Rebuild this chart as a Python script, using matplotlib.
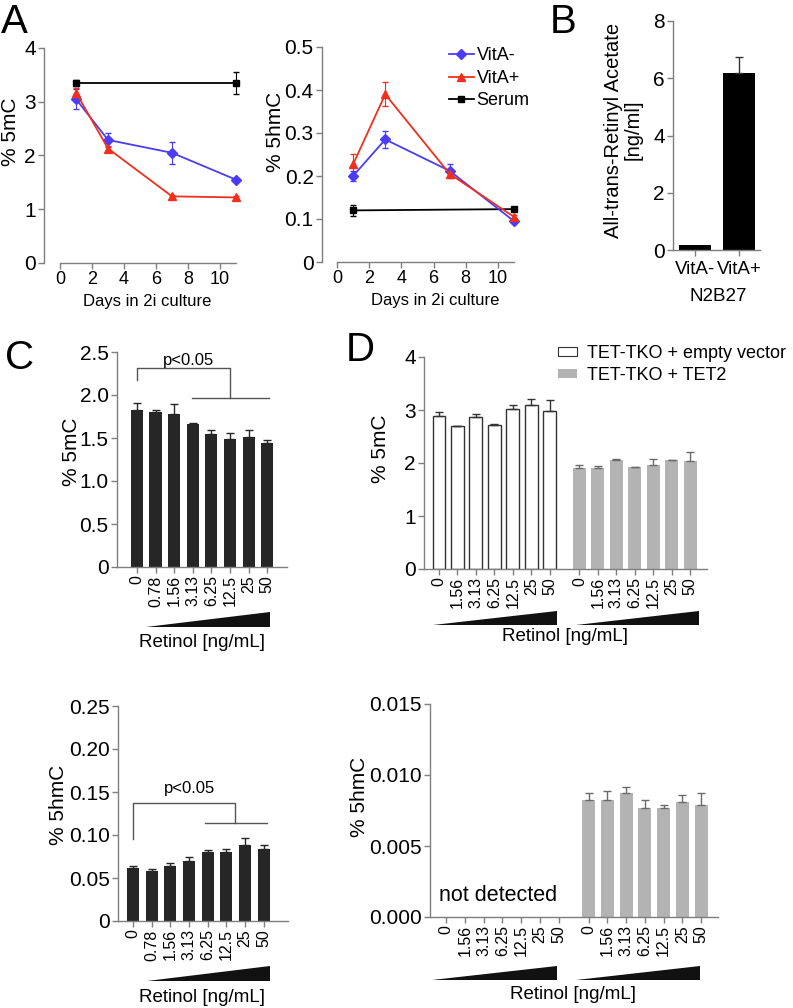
"""
Retinol / vitamin A effect on 5mC and 5hmC levels (panels A-D)
"""
import matplotlib
matplotlib.use('Agg')
import matplotlib.pyplot as plt
import matplotlib.transforms as mtransforms
from matplotlib.patches import Polygon, Patch
from matplotlib.lines import Line2D
import numpy as np

plt.rcParams['font.family'] = ['Liberation Sans', 'DejaVu Sans']

# ---- data -------------------------------------------------------------
days = [1, 3, 7, 11]
serum_days = [1, 11]

# panel A, 5mC
a_mc_vita_minus = [3.05, 2.29, 2.05, 1.55]
a_mc_vita_minus_err = [0.19, 0.13, 0.20, 0.03]
a_mc_vita_plus = [3.17, 2.13, 1.24, 1.22]
a_mc_vita_plus_err = [0.08, 0.04, 0.03, 0.03]
a_mc_serum = [3.35, 3.35]
a_mc_serum_err = [0.06, 0.21]

# panel A, 5hmC
a_hmc_vita_minus = [0.200, 0.285, 0.212, 0.095]
a_hmc_vita_minus_err = [0.012, 0.020, 0.016, 0.004]
a_hmc_vita_plus = [0.227, 0.390, 0.205, 0.105]
a_hmc_vita_plus_err = [0.024, 0.028, 0.004, 0.004]
a_hmc_serum = [0.120, 0.123]
a_hmc_serum_err = [0.012, 0.004]

# panel B
b_labels = ['VitA-', 'VitA+']
b_values = [0.18, 6.2]
b_err = [0.0, 0.55]

# panel C
c_conc = ['0', '0.78', '1.56', '3.13', '6.25', '12.5', '25', '50']
c_mc = [1.82, 1.80, 1.78, 1.66, 1.55, 1.49, 1.51, 1.44]
c_mc_err = [0.09, 0.03, 0.12, 0.01, 0.04, 0.07, 0.08, 0.04]
c_hmc = [0.062, 0.058, 0.064, 0.070, 0.080, 0.080, 0.088, 0.084]
c_hmc_err = [0.002, 0.002, 0.004, 0.004, 0.002, 0.004, 0.008, 0.004]

# panel D
d_conc = ['0', '1.56', '3.13', '6.25', '12.5', '25', '50']
d_mc_empty = [2.88, 2.69, 2.86, 2.71, 3.01, 3.09, 2.98]
d_mc_empty_err = [0.09, 0.0, 0.07, 0.03, 0.09, 0.12, 0.20]
d_mc_tet2 = [1.91, 1.90, 2.06, 1.92, 1.96, 2.05, 2.03]
d_mc_tet2_err = [0.05, 0.04, 0.01, 0.01, 0.12, 0.01, 0.17]
d_hmc_tet2 = [0.00824, 0.00822, 0.00873, 0.00768, 0.00770, 0.00808, 0.00790]
d_hmc_tet2_err = [0.00049, 0.00068, 0.00042, 0.00056, 0.00020, 0.00052, 0.00080]

# ---- style ------------------------------------------------------------
W, H = 793, 1008
SPINE = '#7f7f7f'
BLUE = '#4b3cf5'
RED = '#f0301c'
DARK = '#262626'
GREY = '#b3b3b3'
YT = 15      # y tick labels
XT = 11.5    # rotated concentration labels
LAB = 15     # y axis labels

fig = plt.figure(figsize=(W / 100, H / 100), dpi=100)


def px_axes(left, top, right, bottom):
    return fig.add_axes([left / W, 1 - bottom / H, (right - left) / W, (bottom - top) / H])


def style(ax, ysize=YT, xsize=13):
    for s in ['top', 'right']:
        ax.spines[s].set_visible(False)
    for s in ['left', 'bottom']:
        ax.spines[s].set_color(SPINE)
        ax.spines[s].set_linewidth(1.0)
    ax.tick_params(direction='out', length=4, width=1, color=SPINE)
    ax.tick_params(axis='y', labelsize=ysize, pad=2)
    ax.tick_params(axis='x', labelsize=xsize, pad=2)


def ylabel(ax, text, x, y, size=LAB):
    ax.text(x, y, text, transform=ax.transAxes, rotation=90, ha='center',
            va='center', fontsize=size, multialignment='center', linespacing=1.0)


def wedge(ax, x0, x1, yb, yt):
    tr = mtransforms.blended_transform_factory(ax.transData, ax.transAxes)
    ax.add_patch(Polygon([(x0, yb), (x1, yb), (x1, yt)], closed=True,
                         facecolor='#111111', edgecolor='none',
                         transform=tr, clip_on=False))


def upper_err(ax, x, y, err, color):
    ax.errorbar(x, y, yerr=[np.zeros(len(err)), err], fmt='none',
                ecolor=color, elinewidth=1, capsize=3, capthick=1, clip_on=False)


# ---- panel A: 5mC -----------------------------------------------------
ax = px_axes(44, 48, 240, 263)
style(ax)
ax.errorbar(serum_days, a_mc_serum, yerr=a_mc_serum_err, color='black', marker='s',
            ms=5, lw=1.3, capsize=2.5, elinewidth=0.8, clip_on=False)
ax.errorbar(days, a_mc_vita_minus, yerr=a_mc_vita_minus_err, color=BLUE, marker='D',
            ms=5, lw=1.3, capsize=2.5, elinewidth=0.8, clip_on=False)
ax.errorbar(days, a_mc_vita_plus, yerr=a_mc_vita_plus_err, color=RED, marker='^',
            ms=6, lw=1.3, capsize=2.5, elinewidth=0.8, clip_on=False)
ax.set_xlim(-1, 11.25)
ax.set_ylim(0, 4)
ax.spines['bottom'].set_bounds(0, 11)
ax.set_xticks([0, 2, 4, 6, 8, 10])
ax.set_yticks([0, 1, 2, 3, 4])
ax.text(0.526, -0.18, 'Days in 2i culture', transform=ax.transAxes,
        ha='center', va='center', fontsize=12)
ylabel(ax, '% 5mC', -0.17, 0.61)

# ---- panel A: 5hmC ----------------------------------------------------
ax = px_axes(322, 47, 518, 262)
style(ax)
ax.errorbar(serum_days, a_hmc_serum, yerr=a_hmc_serum_err, color='black', marker='s',
            ms=5, lw=1.3, capsize=2.5, elinewidth=0.8, clip_on=False)
ax.errorbar(days, a_hmc_vita_minus, yerr=a_hmc_vita_minus_err, color=BLUE, marker='D',
            ms=5, lw=1.3, capsize=2.5, elinewidth=0.8, clip_on=False)
ax.errorbar(days, a_hmc_vita_plus, yerr=a_hmc_vita_plus_err, color=RED, marker='^',
            ms=6, lw=1.3, capsize=2.5, elinewidth=0.8, clip_on=False)
ax.set_xlim(-0.93, 11.25)
ax.set_ylim(0, 0.5)
ax.spines['bottom'].set_bounds(0, 11)
ax.set_xticks([0, 2, 4, 6, 8, 10])
ax.set_yticks([0, 0.1, 0.2, 0.3, 0.4, 0.5])
ax.set_yticklabels(['0', '0.1', '0.2', '0.3', '0.4', '0.5'])
ax.text(0.577, -0.177, 'Days in 2i culture', transform=ax.transAxes,
        ha='center', va='center', fontsize=12)
ylabel(ax, '% 5hmC', -0.235, 0.605)
handles = [Line2D([], [], color=BLUE, marker='D', ms=5, lw=1.3),
           Line2D([], [], color=RED, marker='^', ms=6, lw=1.3),
           Line2D([], [], color='black', marker='s', ms=5, lw=1.3)]
ax.legend(handles, ['VitA-', 'VitA+', 'Serum'], loc='upper left',
          bbox_to_anchor=(0.6, 1.04), frameon=False, fontsize=13,
          handlelength=1.4, handletextpad=0.15, labelspacing=0.3, borderpad=0)

# ---- panel B ----------------------------------------------------------
ax = px_axes(673, 21, 760, 250)
style(ax, xsize=13.5)
ax.tick_params(axis='x', pad=4)
bx = np.arange(len(b_values))
ax.bar(bx, b_values, width=0.73, color='black')
upper_err(ax, bx[1:], b_values[1:], b_err[1:], '#333333')
ax.set_xlim(-0.5, 1.48)
ax.set_ylim(0, 8)
ax.set_yticks([0, 2, 4, 6, 8])
ax.set_xticks(bx)
ax.set_xticklabels(b_labels)
ax.text(0.52, -0.205, 'N2B27', transform=ax.transAxes, ha='center', va='center', fontsize=13.5)
ylabel(ax, 'All-trans-Retinyl Acetate\n[ng/ml]', -0.57, 0.524, size=14.5)

# ---- panel C: 5mC -----------------------------------------------------
cx = np.arange(len(c_conc))
ax = px_axes(117, 352, 287, 567)
style(ax, xsize=XT)
ax.bar(cx, c_mc, width=0.65, color=DARK)
upper_err(ax, cx, c_mc, c_mc_err, DARK)
ax.set_xlim(-1.07, 8.06)
ax.set_ylim(0, 2.5)
ax.set_yticks([0, 0.5, 1.0, 1.5, 2.0, 2.5])
ax.set_yticklabels(['0', '0.5', '1.0', '1.5', '2.0', '2.5'])
ax.set_xticks(cx)
ax.set_xticklabels(c_conc, rotation=90)
ax.plot([0, 0, 5, 5], [2.18, 2.31, 2.31, 1.96], color='#555555', lw=1, clip_on=False)
ax.plot([2.95, 7.1], [1.96, 1.96], color='#555555', lw=1, clip_on=False)
ax.text(2.75, 2.31, 'p<0.05', ha='center', va='bottom', fontsize=12)
wedge(ax, 0.5, 7.15, -0.279, -0.209)
ax.text(0.5, -0.353, 'Retinol [ng/mL]', transform=ax.transAxes, ha='center',
        va='center', fontsize=13.5)
ylabel(ax, '% 5mC', -0.265, 0.535)

# ---- panel C: 5hmC ----------------------------------------------------
ax = px_axes(118, 706, 288, 921)
style(ax, xsize=XT)
ax.bar(cx, c_hmc, width=0.65, color=DARK)
upper_err(ax, cx, c_hmc, c_hmc_err, DARK)
ax.set_xlim(-0.8, 8.3)
ax.set_ylim(0, 0.25)
ax.set_yticks([0, 0.05, 0.10, 0.15, 0.20, 0.25])
ax.set_yticklabels(['0', '0.05', '0.10', '0.15', '0.20', '0.25'])
ax.set_xticks(cx)
ax.set_xticklabels(c_conc, rotation=90)
ax.plot([0, 0, 5.45, 5.45], [0.095, 0.137, 0.137, 0.114], color='#555555', lw=1, clip_on=False)
ax.plot([3.85, 7.2], [0.114, 0.114], color='#555555', lw=1, clip_on=False)
ax.text(3.05, 0.145, 'p<0.05', ha='center', va='bottom', fontsize=12)
wedge(ax, 0.75, 7.33, -0.279, -0.209)
ax.text(0.494, -0.358, 'Retinol [ng/mL]', transform=ax.transAxes, ha='center',
        va='center', fontsize=13.5)
ylabel(ax, '% 5hmC', -0.35, 0.54)

# ---- panel D: 5mC -----------------------------------------------------
dx1 = np.arange(len(d_conc))
dx2 = dx1 + 7.6
ax = px_axes(424, 357, 707, 569)
style(ax, xsize=XT)
ax.bar(dx1, d_mc_empty, width=0.7, color='white', edgecolor='#333333', linewidth=1)
upper_err(ax, dx1, d_mc_empty, d_mc_empty_err, '#333333')
ax.bar(dx2, d_mc_tet2, width=0.7, color=GREY)
upper_err(ax, dx2, d_mc_tet2, d_mc_tet2_err, '#6a6a6a')
ax.set_xlim(-0.81, 14.5)
ax.set_ylim(0, 4)
ax.set_yticks([0, 1, 2, 3, 4])
ax.set_xticks(np.concatenate([dx1, dx2]))
ax.set_xticklabels(d_conc + d_conc, rotation=90)
wedge(ax, -0.32, 6.38, -0.264, -0.198)
wedge(ax, 7.4, 14.05, -0.264, -0.198)
ax.text(0.498, -0.32, 'Retinol [ng/mL]', transform=ax.transAxes, ha='center',
        va='center', fontsize=13.5)
ylabel(ax, '% 5mC', -0.155, 0.566)
leg_handles = [Patch(facecolor='white', edgecolor='#333333', linewidth=0.8),
               Patch(facecolor=GREY, edgecolor='none')]
ax.legend(leg_handles, ['TET-TKO + empty vector', 'TET-TKO + TET2'], loc='upper left',
          bbox_to_anchor=(0.44, 1.1), frameon=False, fontsize=13,
          handlelength=1.05, handleheight=0.4, handletextpad=0.6,
          labelspacing=0.3, borderpad=0)

# ---- panel D: 5hmC ----------------------------------------------------
ax = px_axes(430, 704, 718, 917)
style(ax, xsize=XT)
ax.bar(dx2, d_hmc_tet2, width=0.7, color=GREY)
upper_err(ax, dx2, d_hmc_tet2, d_hmc_tet2_err, '#6a6a6a')
ax.set_xlim(-0.86, 14.5)
ax.set_ylim(0, 0.015)
ax.set_yticks([0, 0.005, 0.010, 0.015])
ax.set_yticklabels(['0.000', '0.005', '0.010', '0.015'])
ax.set_xticks(np.concatenate([dx1, dx2]))
ax.set_xticklabels(d_conc + d_conc, rotation=90)
ax.text(2.75, 0.0015, 'not detected', ha='center', va='center', fontsize=15.5)
wedge(ax, -0.75, 5.92, -0.296, -0.23)
wedge(ax, 6.93, 13.55, -0.296, -0.23)
ax.text(0.497, -0.366, 'Retinol [ng/mL]', transform=ax.transAxes, ha='center',
        va='center', fontsize=13.5)
ylabel(ax, '% 5hmC', -0.245, 0.563)

# ---- panel letters ----------------------------------------------------
for letter, x, y in [('A', 14, 22), ('B', 563, 22), ('C', 20, 358), ('D', 360, 350)]:
    fig.text(x / W, 1 - y / H, letter, fontsize=29, ha='center', va='center')

fig.savefig('out.png', dpi=100)
